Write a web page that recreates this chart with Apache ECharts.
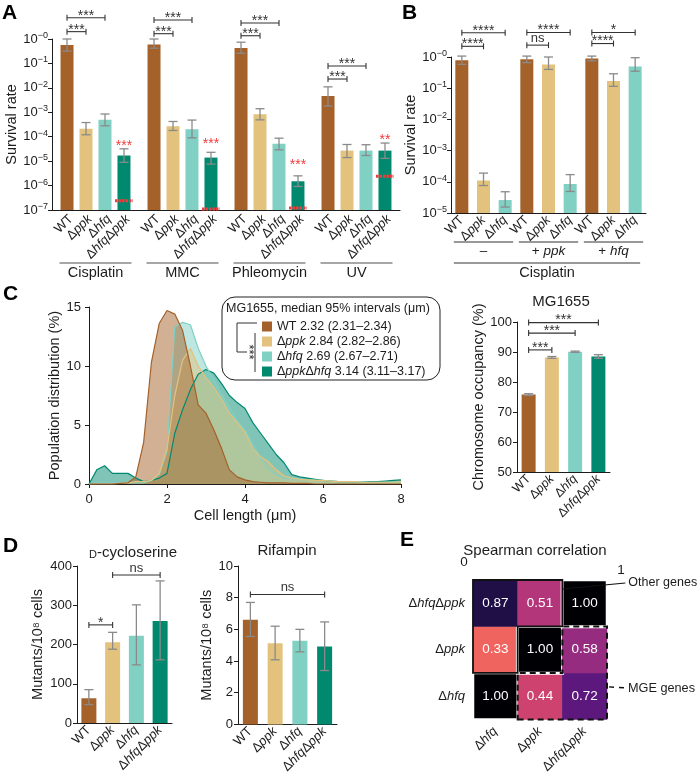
<!DOCTYPE html>
<html>
<head>
<meta charset="utf-8">
<script src="https://cdn.jsdelivr.net/npm/echarts@6.0.0/dist/echarts.min.js"></script>
<style>html,body{margin:0;padding:0;background:#fff;}#chart{width:700px;height:776px;}</style>
</head>
<body>
<div id="chart"></div>
<script>
// ================= DATA =================
const strains = ['WT', 'Δppk', 'Δhfq', 'ΔhfqΔppk'];

// Panel A : survival rate (log)
const A_treatments = ['Cisplatin', 'MMC', 'Phleomycin', 'UV'];
const A_WT      = [0.57, 0.60, 0.43, 4.6e-3];
const A_WT_lo   = [0.32, 0.42, 0.26, 1.8e-3];
const A_WT_hi   = [1.0, 1.0, 0.74, 1.1e-2];
const A_ppk     = [2.1e-4, 2.7e-4, 8.4e-4, 2.7e-5];
const A_ppk_lo  = [1.2e-4, 1.8e-4, 4.9e-4, 1.4e-5];
const A_ppk_hi  = [3.8e-4, 4.2e-4, 1.4e-3, 4.8e-5];
const A_hfq     = [4.9e-4, 2.0e-4, 5.1e-5, 2.7e-5];
const A_hfq_lo  = [2.8e-4, 9.0e-5, 2.9e-5, 1.7e-5];
const A_hfq_hi  = [8.5e-4, 4.8e-4, 8.7e-5, 4.7e-5];
const A_dbl     = [1.7e-5, 1.4e-5, 1.5e-6, 2.7e-5];
const A_dbl_lo  = [9.0e-6, 7.6e-6, 9.2e-7, 1.3e-5];
const A_dbl_hi  = [3.2e-5, 2.3e-5, 2.5e-6, 5.5e-5];
const A_limit   = [2.4e-7, 1.1e-7, 1.2e-7, 2.4e-6];
const A_redStars   = ['***', '***', '***', '**'];
const A_redStarAt  = [5.6e-5, 6.3e-5, 8.9e-6, 1.0e-4];
const A_sigNear = [2.0, 1.65, 1.36, 0.023];
const A_sigFar  = [7.4, 6.0, 4.5, 0.079];

// Panel B
const B_strain = ['WT', 'Δppk', 'Δhfq', 'WT', 'Δppk', 'Δhfq', 'WT', 'Δppk', 'Δhfq'];
const B_vals = [0.78, 1.1e-4, 2.6e-5, 0.85, 0.57, 8.5e-5, 0.89, 0.17, 0.50];
const B_lo   = [0.58, 7.6e-5, 1.55e-5, 0.66, 0.40, 4.9e-5, 0.75, 0.115, 0.35];
const B_hi   = [1.07, 1.9e-4, 4.8e-5, 1.07, 1.0, 1.7e-4, 1.07, 0.29, 0.95];
const B_groups = ['–', '+ ppk', '+ hfq'];
const B_sig = [
  {a: 0, b: 1, y: 2.2, t: '****'}, {a: 0, b: 2, y: 6.0, t: '****'},
  {a: 3, b: 4, y: 2.4, t: 'ns'},   {a: 3, b: 5, y: 6.1, t: '****'},
  {a: 6, b: 7, y: 2.7, t: '****'}, {a: 6, b: 8, y: 6.1, t: '*'}
];

// Panel C (left): cell length distributions
const cellLen = [0,0.2,0.4,0.6,0.8,1.0,1.2,1.4,1.6,1.8,2.0,2.2,2.4,2.6,2.8,3.0,3.2,3.4,3.6,3.8,4.0,4.2,4.4,4.6,4.8,5.0,5.2,5.4,5.6,5.8,6.0,6.2,6.4,6.6,6.8,7.0,7.2,7.4,7.6,7.8,8.0];
const C_wt  = [0,0,0,0,0.05,0.1,0.6,3.5,10.3,13.6,14.7,14.4,13.0,10.0,6.7,6.0,4.6,3.0,1.2,0.6,0.35,0.2,0.15,0.1,0.1,0.1,0.05,0.05,0.05,0,0,0,0,0,0,0,0,0,0,0,0];
const C_ppk = [0,0,0,0,0.05,0.1,0.2,0.2,0.3,0.9,3.0,7.5,10.5,11.5,10.0,9.0,8.2,7.2,6.0,5.2,4.4,3.0,2.3,1.9,1.2,0.7,0.5,0.4,0.35,0.3,0.3,0.25,0.2,0.2,0.2,0.15,0.15,0.15,0.15,0.15,0.2];
const C_hfq = [0,0.1,0.1,0.1,0.1,0.1,0.1,0.1,0.3,0.8,2.8,13.3,13.7,13.5,11.5,10.0,8.8,7.6,6.5,5.4,4.6,3.4,2.2,1.3,0.8,0.5,0.45,0.4,0.35,0.3,0.3,0.25,0.2,0.2,0.2,0.2,0.15,0.15,0.15,0.15,0.2];
const C_dbl = [0,1.2,1.55,0.9,0.9,0.9,0.5,0.2,0.3,0.5,0.9,4.3,6.3,8.0,9.3,9.7,9.4,8.5,7.5,6.9,6.4,5.2,4.3,3.4,2.5,1.8,0.8,0.6,0.5,0.4,0.3,0.25,0.2,0.2,0.2,0.2,0.2,0.2,0.25,0.3,0.35];
const C_legendNames = ['WT', 'Δppk', 'Δhfq', 'ΔppkΔhfq'];
const C_legendStats = ['2.32 (2.31–2.34)', '2.84 (2.82–2.86)', '2.69 (2.67–2.71)', '3.14 (3.11–3.17)'];

// Panel C (right): chromosome occupancy
const C2_vals = [75.8, 88.2, 90.1, 88.5];
const C2_err  = [0.3, 0.3, 0.2, 0.6];
const C2_sig  = [{a: 0, b: 1, y: 90.7, t: '***'}, {a: 0, b: 2, y: 96.3, t: '***'}, {a: 0, b: 3, y: 99.8, t: '***'}];

// Panel D
const D1_vals = [63, 206, 222, 260];
const D1_lo   = [47, 188, 148, 161];
const D1_hi   = [85, 231, 301, 362];
const D1_sig  = [{a: 0, b: 1, y: 250, t: '*'}, {a: 1, b: 3, y: 377, t: 'ns'}];
const D2_vals = [6.6, 5.13, 5.28, 4.92];
const D2_lo   = [5.55, 4.08, 4.58, 3.4];
const D2_hi   = [7.7, 6.2, 6.0, 6.47];
const D2_sig  = [{a: 0, b: 3, y: 8.2, t: 'ns'}];

// Panel E: Spearman correlation
const E_x = ['Δhfq', 'Δppk', 'ΔhfqΔppk'];
const E_y = ['Δhfq', 'Δppk', 'ΔhfqΔppk'];
const E_vals = [[0,0,1.00],[1,0,0.44],[2,0,0.72],[0,1,0.33],[1,1,1.00],[2,1,0.58],[0,2,0.87],[1,2,0.51],[2,2,1.00]];

// ================= STYLE =================
const FONT = '"Liberation Sans", Arial, Helvetica, sans-serif';
const INK = '#1c1c1c';
const COLS = ['#A4612A', '#E2C27D', '#80D0C3', '#00896F'];
const GRAY = '#8a8a8a', RED = '#F23B3B';
const MAGMA_R = ['#fcfdbf','#fecf92','#fe9f6d','#f7705c','#de4968','#b73779','#8c2981','#641a80','#3b0f70','#140e36','#000004'];

function sName(s) {
  return s.split(/(Δ)/).filter(Boolean).map(t => t === 'Δ' ? '{n|Δ}' : (t === 'WT' ? '{n|WT}' : '{i|' + t + '}')).join('');
}
function richE(size) {
  return {n: {fontFamily: FONT, fontSize: size, color: INK}, i: {fontFamily: FONT, fontSize: size, fontStyle: 'italic', color: INK}};
}
function richZ(size) {
  return {n: {fontFamily: FONT, fontSize: size, fill: INK}, i: {fontFamily: FONT, fontSize: size, fontStyle: 'italic', fill: INK}};
}
function powLabel(v) { const e = Math.round(-Math.log10(v)); return '{b|10}{s|−' + e + '}'; }
const powRich = {b: {fontFamily: FONT, fontSize: 13, color: INK, lineHeight: 16}, s: {fontFamily: FONT, fontSize: 9, color: INK, lineHeight: 9, verticalAlign: 'top'}};

function txt(x, y, text, opt) {
  opt = opt || {};
  return {type: 'text', x: x, y: y, rotation: opt.rot || 0, style: {
    text: text, fill: opt.fill || INK, fontSize: opt.size || 13, fontFamily: FONT, fontStyle: opt.italic ? 'italic' : 'normal',
    fontWeight: opt.bold ? 'bold' : 'normal', rich: opt.rich,
    align: opt.align || 'center', textAlign: opt.align || 'center',
    verticalAlign: opt.va || 'middle', textVerticalAlign: opt.va || 'middle'}};
}
function ln(x1, y1, x2, y2, color, w, dash) {
  return {type: 'line', shape: {x1: x1, y1: y1, x2: x2, y2: y2}, style: {stroke: color, lineWidth: w, lineDash: dash || null}};
}
function mkErr(api, cat, dx, lo, hi) {
  const a = api.coord([cat, lo]), b = api.coord([cat, hi]);
  const x = a[0] + dx, cap = 4.5;
  return [ln(x, a[1], x, b[1], GRAY, 1.3), ln(x - cap, b[1], x + cap, b[1], GRAY, 1.3), ln(x - cap, a[1], x + cap, a[1], GRAY, 1.3)];
}
function mkBracket(api, c1, dx1, c2, dx2, yv, t) {
  const p = api.coord([c1, yv]), q = api.coord([c2, yv]);
  const x1 = p[0] + dx1, x2 = q[0] + dx2, y = p[1];
  const star = t.indexOf('*') >= 0;
  return [ln(x1, y, x2, y, '#333', 1.1), ln(x1, y - 3, x1, y + 3, '#333', 1.1), ln(x2, y - 3, x2, y + 3, '#333', 1.1),
          txt((x1 + x2) / 2, star ? y - 2 : y - 7, t, {size: star ? 14 : 13, fill: '#333'})];
}
function mkRotLabel(api, cat, dx, base, name, size) {
  const p = api.coord([cat, base]);
  return txt(p[0] + dx + 4, p[1] + 7, sName(name), {rich: richZ(size), size: size, align: 'right', rot: Math.PI / 4});
}
function annotate(idx, yDummy, draw) {
  return {type: 'custom', xAxisIndex: idx, yAxisIndex: idx, silent: true, z: 6, clip: false,
          data: [[0, yDummy]], renderItem: (params, api) => ({type: 'group', children: draw(api)})};
}

// ================= AXES =================
const axLine = {show: true, lineStyle: {color: INK, width: 1}};
const axTick = {show: true, length: 4, lineStyle: {color: INK}};
const nameStyle = {fontFamily: FONT, fontSize: 14.5, color: INK};
function yVal(grid, extra) {
  return Object.assign({gridIndex: grid, type: 'value', axisLine: axLine, axisTick: axTick, splitLine: {show: false},
    nameLocation: 'middle', nameTextStyle: nameStyle,
    axisLabel: {fontFamily: FONT, fontSize: 13, color: INK, margin: 5}}, extra);
}
function xCat(grid, data, labels, extra) {
  return Object.assign({gridIndex: grid, type: 'category', data: data, axisLine: axLine, axisTick: {show: false},
    axisLabel: {interval: 0, rotate: 45, margin: 5, formatter: (v, i) => sName(labels[i]), rich: richE(13)}}, extra);
}

const grid = [
  {left: 52, top: 39, width: 348, height: 171},
  {left: 451, top: 57, width: 195, height: 156},
  {left: 89, top: 307, width: 312, height: 177},
  {left: 517, top: 322, width: 93, height: 150},
  {left: 77, top: 566, width: 95, height: 157},
  {left: 238, top: 566, width: 99, height: 159},
  {left: 473, top: 580, width: 134, height: 141}
];

const xAxis = [
  {gridIndex: 0, type: 'category', data: A_treatments, axisLine: axLine, axisTick: {show: false}, axisLabel: {show: false}},
  xCat(1, B_strain.map((s, i) => 'b' + i), B_strain),
  {gridIndex: 2, type: 'value', min: 0, max: 8, interval: 2, offset: 3, axisLine: axLine, axisTick: axTick, splitLine: {show: false},
   axisLabel: {fontFamily: FONT, fontSize: 13, color: INK, margin: 6}, name: 'Cell length (μm)', nameLocation: 'middle', nameGap: 21, nameTextStyle: nameStyle},
  xCat(3, strains, strains, {axisLabel: {interval: 0, rotate: 45, margin: 5, formatter: (v, i) => sName(strains[i]), rich: richE(12.5)}}),
  xCat(4, strains, strains),
  xCat(5, strains, strains),
  {gridIndex: 6, type: 'category', data: E_x, axisLine: {show: false}, axisTick: {show: false},
   axisLabel: {interval: 0, rotate: 45, margin: 10, formatter: (v, i) => sName(E_x[i]), rich: richE(13)}}
];

const yAxis = [
  yVal(0, {type: 'log', min: 1e-7, max: 1, startValue: 1e-7, logBase: 10, splitNumber: 7, name: 'Survival rate', nameGap: 30,
           axisLabel: {formatter: powLabel, rich: powRich, margin: 4}}),
  yVal(1, {type: 'log', min: 1e-5, max: 1, startValue: 1e-5, logBase: 10, splitNumber: 5, name: 'Survival rate', nameGap: 31,
           axisLabel: {formatter: powLabel, rich: powRich, margin: 4}}),
  yVal(2, {min: 0, max: 15, interval: 5, offset: 3, name: 'Population distribution (%)', nameGap: 22}),
  yVal(3, {min: 50, max: 100, interval: 10, startValue: 50, name: 'Chromosome occupancy (%)', nameGap: 29}),
  yVal(4, {min: 0, max: 400, interval: 100, name: 'Mutants/10⁸ cells', nameGap: 32}),
  yVal(5, {min: 0, max: 10, interval: 2, name: 'Mutants/10⁸ cells', nameGap: 21}),
  {gridIndex: 6, type: 'category', data: E_y, axisLine: {show: false}, axisTick: {show: false},
   axisLabel: {margin: 8, formatter: (v, i) => sName(E_y[i]), rich: richE(13)}}
];

// ================= SERIES =================
const series = [];
// A bars
[A_WT, A_ppk, A_hfq, A_dbl].forEach((arr, s) => {
  series.push({type: 'bar', name: 'A_' + strains[s], xAxisIndex: 0, yAxisIndex: 0, data: arr, barWidth: 13, barGap: '46%',
               itemStyle: {color: COLS[s]}});
});
series.push(annotate(0, 1e-3, api => {
  const out = [], base = 1e-7, step = 19;
  const sets = [[A_WT_lo, A_WT_hi], [A_ppk_lo, A_ppk_hi], [A_hfq_lo, A_hfq_hi], [A_dbl_lo, A_dbl_hi]];
  for (let g = 0; g < 4; g++) {
    for (let s = 0; s < 4; s++) {
      const dx = (s - 1.5) * step;
      out.push(...mkErr(api, g, dx, sets[s][0][g], sets[s][1][g]));
      out.push(mkRotLabel(api, g, dx, base, strains[s], 13));
    }
    const p = api.coord([g, A_limit[g]]), xd = p[0] + 1.5 * step;
    out.push(ln(xd - 9, p[1], xd + 9, p[1], RED, 3, [2.5, 1]));
    const q = api.coord([g, A_redStarAt[g]]);
    out.push(txt(q[0] + 1.5 * step, q[1] + 3, A_redStars[g], {fill: RED, size: 14}));
    out.push(...mkBracket(api, g, -1.5 * step, g, -0.5 * step, A_sigNear[g], '***'));
    out.push(...mkBracket(api, g, -1.5 * step, g, 0.5 * step, A_sigFar[g], '***'));
    const b = api.coord([g, base]);
    out.push(ln(b[0] - 36, b[1] + 53, b[0] + 36, b[1] + 53, '#8a8a8a', 1.5));
    out.push(txt(b[0], b[1] + 63, A_treatments[g], {size: 14.5}));
  }
  return out;
}));
// B bars
series.push({type: 'bar', xAxisIndex: 1, yAxisIndex: 1, barWidth: 13,
             data: B_vals.map((v, i) => ({value: v, itemStyle: {color: COLS[i % 3]}}))});
series.push(annotate(1, 1e-3, api => {
  const out = [], base = 1e-5;
  for (let i = 0; i < 9; i++) out.push(...mkErr(api, i, 0, B_lo[i], B_hi[i]));
  B_sig.forEach(b => out.push(...mkBracket(api, b.a, 0, b.b, 0, b.y, b.t)));
  const yb = api.coord([0, base])[1];
  for (let g = 0; g < 3; g++) {
    const x1 = api.coord([3 * g, base])[0] - 8, x2 = api.coord([3 * g + 2, base])[0] + 8;
    out.push(ln(x1, yb + 29, x2, yb + 29, '#333', 1));
    const lab = B_groups[g].indexOf('+ ') === 0 ? '{n|+ }{i|' + B_groups[g].slice(2) + '}' : '{n|' + B_groups[g] + '}';
    out.push(txt((x1 + x2) / 2, yb + 38, lab, {rich: richZ(13.5)}));
  }
  const x1 = api.coord([0, base])[0] - 8, x2 = api.coord([8, base])[0] + 5;
  out.push(ln(x1, yb + 50, x2, yb + 50, '#777', 1.5));
  out.push(txt((x1 + x2) / 2, yb + 60, 'Cisplatin', {size: 14.5}));
  return out;
}));
// C left: areas
[[C_legendNames[3], C_dbl, COLS[3]], [C_legendNames[2], C_hfq, COLS[2]], [C_legendNames[1], C_ppk, COLS[1]], [C_legendNames[0], C_wt, COLS[0]]]
.forEach(([name, arr, col]) => {
  series.push({type: 'line', name: name, xAxisIndex: 2, yAxisIndex: 2, symbol: 'none', data: cellLen.map((x, i) => [x, arr[i]]),
               lineStyle: {color: col, width: 1.2}, itemStyle: {color: col}, areaStyle: {color: col, opacity: 0.5}});
});
// C right
series.push({type: 'bar', xAxisIndex: 3, yAxisIndex: 3, barWidth: 14,
             data: C2_vals.map((v, i) => ({value: v, itemStyle: {color: COLS[i]}}))});
series.push(annotate(3, 60, api => {
  const out = [];
  for (let i = 0; i < 4; i++) out.push(...mkErr(api, i, 0, C2_vals[i] - C2_err[i], C2_vals[i] + C2_err[i]));
  C2_sig.forEach(b => out.push(...mkBracket(api, b.a, 0, b.b, 0, b.y, b.t)));
  return out;
}));
// D
series.push({type: 'bar', xAxisIndex: 4, yAxisIndex: 4, barWidth: 15,
             data: D1_vals.map((v, i) => ({value: v, itemStyle: {color: COLS[i]}}))});
series.push(annotate(4, 100, api => {
  const out = [];
  for (let i = 0; i < 4; i++) out.push(...mkErr(api, i, 0, D1_lo[i], D1_hi[i]));
  D1_sig.forEach(b => out.push(...mkBracket(api, b.a, 0, b.b, 0, b.y, b.t)));
  return out;
}));
series.push({type: 'bar', xAxisIndex: 5, yAxisIndex: 5, barWidth: 15,
             data: D2_vals.map((v, i) => ({value: v, itemStyle: {color: COLS[i]}}))});
series.push(annotate(5, 5, api => {
  const out = [];
  for (let i = 0; i < 4; i++) out.push(...mkErr(api, i, 0, D2_lo[i], D2_hi[i]));
  D2_sig.forEach(b => out.push(...mkBracket(api, b.a, 0, b.b, 0, b.y, b.t)));
  return out;
}));
// E heatmap
const heatIdx = series.length;
series.push({type: 'heatmap', xAxisIndex: 6, yAxisIndex: 6,
  data: E_vals.map(d => ({value: d, itemStyle: d[2] === 1 ? {borderColor: '#fff', borderWidth: 3} : {borderWidth: 0}})),
  label: {show: true, color: '#fff', fontSize: 13.5, fontFamily: FONT, formatter: p => p.value[2].toFixed(2)}});
series.push(annotate(6, 0, api => {
  const c = api.coord([0, 0]), sz = api.size([1, 1]);
  const P = (ex, ey) => [c[0] + ex * sz[0], c[1] - ey * sz[1]];
  const other = [P(-0.5, 2.5), P(1.5, 2.5), P(1.5, 1.5), P(0.5, 1.5), P(0.5, 0.5), P(-0.5, 0.5)];
  const mge = [P(0.5, -0.5), P(2.5, -0.5), P(2.5, 1.5), P(1.5, 1.5), P(1.5, 0.5), P(0.5, 0.5)];
  const a = P(1.5, 2.5), m = P(2.5, 0.2);
  return [
    {type: 'polygon', shape: {points: other}, style: {fill: 'none', stroke: '#111', lineWidth: 1.8}},
    {type: 'polygon', shape: {points: mge}, style: {fill: 'none', stroke: '#111', lineWidth: 2, lineDash: [6, 4]}},
    ln(a[0], a[1] + 9, a[0] + 63, a[1] + 3, '#111', 1.2),
    txt(a[0] + 66, a[1] + 3, 'Other genes', {align: 'left', size: 12.5}),
    ln(m[0] + 2, m[1], m[0] + 19, m[1] + 1, '#111', 1.5, [5, 5]),
    txt(m[0] + 21, m[1] + 2, 'MGE genes', {align: 'left', size: 12.7})
  ];
}));

// ================= GRAPHIC (letters, titles, legend box) =================
const graphic = [
  txt(2, 3, 'A', {bold: true, size: 21, align: 'left', va: 'top', fill: '#000'}),
  txt(402, 3, 'B', {bold: true, size: 21, align: 'left', va: 'top', fill: '#000'}),
  txt(3, 284, 'C', {bold: true, size: 21, align: 'left', va: 'top', fill: '#000'}),
  txt(3, 536, 'D', {bold: true, size: 21, align: 'left', va: 'top', fill: '#000'}),
  txt(400, 530, 'E', {bold: true, size: 21, align: 'left', va: 'top', fill: '#000'}),
  txt(561, 302, 'MG1655', {size: 15}),
  txt(133, 551, '{sc|D}{m|-cycloserine}', {size: 15, rich: {sc: {fontSize: 11, lineHeight: 14, verticalAlign: 'bottom', fontFamily: FONT, fill: INK},
                                                            m: {fontSize: 15, lineHeight: 18, verticalAlign: 'bottom', fontFamily: FONT, fill: INK}}}),
  txt(287, 551, 'Rifampin', {size: 15}),
  txt(535, 551, 'Spearman correlation', {size: 15}),
  txt(464, 562, '0', {size: 13.5}),
  txt(621, 570, '1', {size: 13.5}),
  {type: 'rect', shape: {x: 222, y: 297, width: 218, height: 83, r: 13}, style: {fill: 'none', stroke: '#222', lineWidth: 1}},
  txt(226, 309, 'MG1655, median 95% intervals (μm)', {align: 'left', size: 12.5}),
  {type: 'polyline', shape: {points: [[257, 323], [237, 323], [237, 352], [247, 352]]}, style: {fill: 'none', stroke: '#333', lineWidth: 1}},
  ln(255, 333, 255, 372, '#333', 1),
  txt(249, 352, '***', {size: 13, rot: -Math.PI / 2})
];

const option = {
  animation: false,
  backgroundColor: '#fff',
  textStyle: {fontFamily: FONT},
  grid: grid,
  xAxis: xAxis,
  yAxis: yAxis,
  legend: {data: C_legendNames, orient: 'vertical', left: 257, top: 314, itemWidth: 10, itemHeight: 10, itemGap: 0, icon: 'rect',
           selectedMode: false,
           formatter: name => sName(name) + ' ' + C_legendStats[C_legendNames.indexOf(name)],
           textStyle: {fontFamily: FONT, fontSize: 12.5, color: INK, lineHeight: 15,
                       rich: {n: {fontFamily: FONT, fontSize: 12.5, color: INK, lineHeight: 15}, i: {fontFamily: FONT, fontSize: 12.5, fontStyle: 'italic', color: INK, lineHeight: 15}}}},
  visualMap: {show: false, type: 'continuous', min: 0, max: 1, dimension: 2, seriesIndex: heatIdx, inRange: {color: MAGMA_R}},
  series: series,
  graphic: graphic
};

const chart = echarts.init(document.getElementById('chart'), null, {renderer: 'canvas'});
chart.setOption(option);
</script>
</body>
</html>
